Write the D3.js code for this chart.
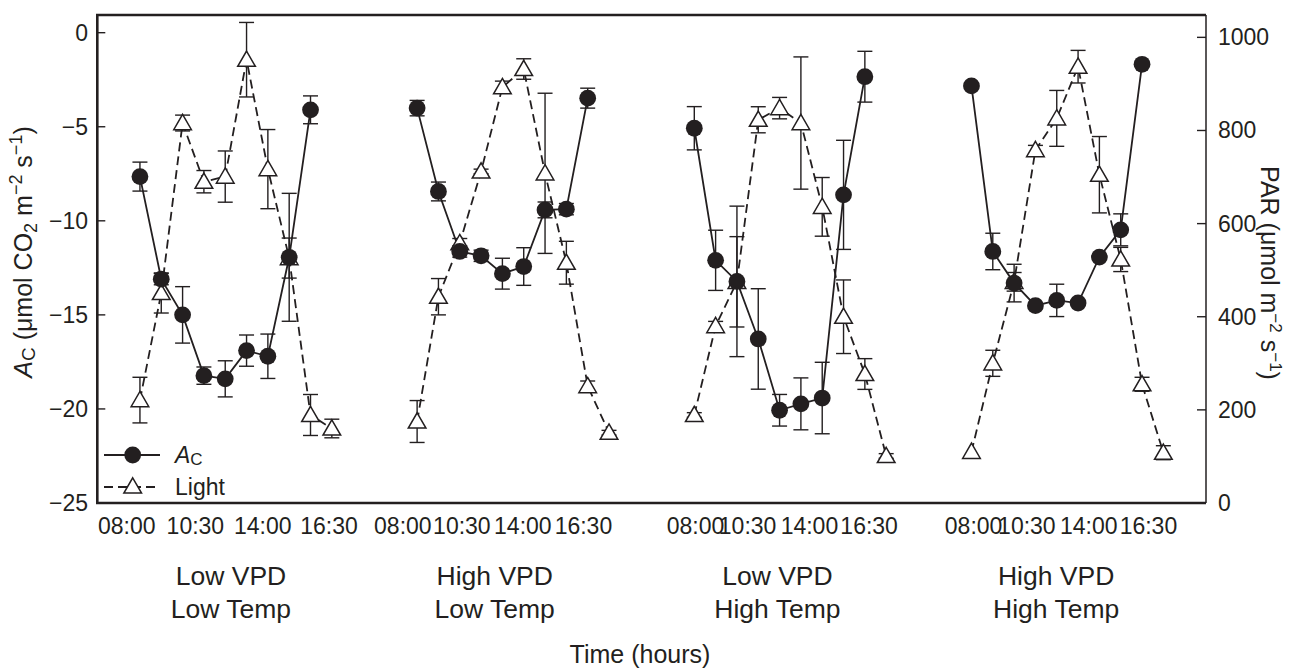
<!DOCTYPE html>
<html>
<head>
<meta charset="utf-8">
<script src="https://cdn.jsdelivr.net/npm/d3@7"></script>
<style>
  body { margin: 0; background: #fff; }
  svg { font-family: "Liberation Sans", Arial, Helvetica, sans-serif; }
  .tick-label { font-size: 23px; fill: #231f20; }
  .axis-title { font-size: 25px; fill: #231f20; }
  .group-label { font-size: 26.5px; fill: #231f20; }
</style>
</head>
<body>
<svg id="chart"></svg>
<script>
// treatments, one block of points each
const groups = ['Low VPD|Low Temp', 'High VPD|Low Temp', 'Low VPD|High Temp', 'High VPD|High Temp'];
const groupCentre = [4.27, 16.64, 29.9, 42.97];

// time labels and where they sit (in point-index units, inside each group)
const timeLabels = ['08:00', '10:30', '14:00', '16:30'];
const timeLabelPos = [
  [-0.62, 2.6, 5.76, 8.87],
  [-0.67, 2.1, 4.96, 7.8],
  [0.06, 2.5, 5.4, 8.2],
  [0.1, 2.6, 5.5, 8.3]
];

// A_C (umol CO2 m-2 s-1), 9 points per group
const acValues = [
  [-7.65, -13.1, -15.0, -18.23, -18.4, -16.9, -17.2, -11.94, -4.1],
  [-4.01, -8.44, -11.63, -11.86, -12.81, -12.43, -9.42, -9.38, -3.48],
  [-5.08, -12.1, -13.22, -16.28, -20.07, -19.73, -19.42, -8.62, -2.34],
  [-2.83, -11.63, -13.31, -14.51, -14.23, -14.37, -11.93, -10.48, -1.68]
];
const acErrors = [
  [0.77, 0.3, 1.5, 0.46, 0.96, 0.83, 1.18, 3.4, 0.74],
  [0.41, 0.5, 0.3, 0.3, 0.82, 1.0, 0.42, 0.3, 0.53],
  [1.15, 1.6, 4.0, 2.67, 0.84, 1.38, 1.9, 2.9, 1.35],
  [0, 0.97, 1.0, 0, 0.86, 0, 0, 0.85, 0]
];

// PAR (umol m-2 s-1), 10 points per group
const lightValues = [
  [221, 451, 816, 690, 701, 952, 717, 526, 189, 160],
  [175, 443, 558, 712, 893, 932, 708, 516, 251, 151],
  [189, 380, 475, 823, 848, 816, 636, 400, 277, 101],
  [110, 300, 475, 758, 826, 937, 705, 523, 255, 108]
];
const lightErrors = [
  [49, 43, 17, 24, 55, 80, 85, 43, 44, 20],
  [45, 39, 10, 5, 13, 22, 172, 46, 11, 5],
  [5, 10, 97, 28, 23, 142, 63, 79, 33, 5],
  [0, 28, 20, 10, 60, 35, 82, 26, 15, 15]
];

const acTicks = [0, -5, -10, -15, -20, -25];
const parTicks = [0, 200, 400, 600, 800, 1000];

class DualAxisChart {

  constructor(_config) {
    this.config = {
      parentElement: _config.parentElement,
      containerWidth: 1290,
      containerHeight: 670,
      plot: {left: 97.3, right: 1206, top: 15, bottom: 503},
      groupStride: 13,
      ink: '#231f20'
    };
    this.initVis();
  }

  initVis() {
    let vis = this;
    let p = vis.config.plot;

    vis.svg = d3.select(vis.config.parentElement)
        .attr('width', vis.config.containerWidth)
        .attr('height', vis.config.containerHeight);

    // x is a running point index: group g, point k -> g*13 + k
    vis.xScale = d3.scaleLinear().domain([-2, 50]).range([p.left, p.right]);
    vis.yLeft = d3.scaleLinear().domain([-25, 0.94]).range([p.bottom, p.top]);
    vis.yRight = d3.scaleLinear().domain([0, 1048]).range([p.bottom, p.top]);

    vis.chart = vis.svg.append('g');
  }

  updateVis() {
    let vis = this;
    let s = vis.config.groupStride;

    vis.acData = acValues.map((arr, g) => arr.map((v, k) => ({x: g * s + k, y: v, e: acErrors[g][k]})));
    vis.lightData = lightValues.map((arr, g) => arr.map((v, k) => ({x: g * s + k, y: v, e: lightErrors[g][k]})));

    vis.renderVis();
    vis.renderAxes();
    vis.renderLegend();
  }

  renderVis() {
    let vis = this;
    let ink = vis.config.ink;

    const lineAc = d3.line().x(d => vis.xScale(d.x)).y(d => vis.yLeft(d.y));
    const lineLight = d3.line().x(d => vis.xScale(d.x)).y(d => vis.yRight(d.y));

    // error bars first, markers sit on top
    const errG = vis.chart.append('g').attr('stroke', ink).attr('stroke-width', 1.4).attr('fill', 'none');
    const drawErr = (data, yScale) => {
      data.flat().filter(d => d.e > 0).forEach(d => {
        let x = vis.xScale(d.x);
        let y1 = yScale(d.y + d.e), y2 = yScale(d.y - d.e);
        errG.append('line').attr('x1', x).attr('x2', x).attr('y1', y1).attr('y2', y2);
        errG.append('line').attr('x1', x - 7.5).attr('x2', x + 7.5).attr('y1', y1).attr('y2', y1);
        errG.append('line').attr('x1', x - 7.5).attr('x2', x + 7.5).attr('y1', y2).attr('y2', y2);
      });
    };
    drawErr(vis.lightData, vis.yRight);
    drawErr(vis.acData, vis.yLeft);

    vis.chart.selectAll('.light-line')
        .data(vis.lightData)
      .join('path')
        .attr('class', 'light-line')
        .attr('d', lineLight)
        .attr('fill', 'none')
        .attr('stroke', ink)
        .attr('stroke-width', 1.8)
        .attr('stroke-dasharray', '9,5');

    vis.chart.selectAll('.ac-line')
        .data(vis.acData)
      .join('path')
        .attr('class', 'ac-line')
        .attr('d', lineAc)
        .attr('fill', 'none')
        .attr('stroke', ink)
        .attr('stroke-width', 1.8);

    const tri = d3.symbol().type(d3.symbolTriangle).size(135);

    vis.chart.selectAll('.light-pt')
        .data(vis.lightData.flat())
      .join('path')
        .attr('class', 'light-pt')
        .attr('d', tri)
        .attr('transform', d => `translate(${vis.xScale(d.x)},${vis.yRight(d.y) + 1.5})`)
        .attr('fill', '#fff')
        .attr('stroke', ink)
        .attr('stroke-width', 1.5);

    vis.chart.selectAll('.ac-pt')
        .data(vis.acData.flat())
      .join('circle')
        .attr('class', 'ac-pt')
        .attr('cx', d => vis.xScale(d.x))
        .attr('cy', d => vis.yLeft(d.y))
        .attr('r', 8.4)
        .attr('fill', ink);
  }

  renderAxes() {
    let vis = this;
    let p = vis.config.plot;
    let ink = vis.config.ink;
    let s = vis.config.groupStride;

    // frame
    vis.svg.append('path')
        .attr('d', `M${p.right},${p.top}H${p.left}V${p.bottom}H${p.right}`)
        .attr('fill', 'none').attr('stroke', ink).attr('stroke-width', 2.6);
    vis.svg.append('line')
        .attr('x1', p.right).attr('x2', p.right).attr('y1', p.top).attr('y2', p.bottom)
        .attr('stroke', ink).attr('stroke-width', 1.5);

    // left axis, ticks pointing in
    const left = vis.svg.append('g');
    left.selectAll('line').data(acTicks.filter(t => t > -25)).join('line')
        .attr('x1', p.left).attr('x2', p.left + 8)
        .attr('y1', d => vis.yLeft(d)).attr('y2', d => vis.yLeft(d))
        .attr('stroke', ink).attr('stroke-width', 1.4);
    left.selectAll('text').data(acTicks).join('text')
        .attr('class', 'tick-label')
        .attr('x', 88).attr('y', d => vis.yLeft(d) + 8)
        .attr('text-anchor', 'end')
        .text(d => d < 0 ? '\u2212' + Math.abs(d) : d);

    // right axis
    const right = vis.svg.append('g');
    right.selectAll('line').data(parTicks.filter(t => t > 0)).join('line')
        .attr('x1', p.right - 9).attr('x2', p.right)
        .attr('y1', d => vis.yRight(d)).attr('y2', d => vis.yRight(d))
        .attr('stroke', ink).attr('stroke-width', 1.4);
    right.selectAll('text').data(parTicks).join('text')
        .attr('class', 'tick-label')
        .attr('x', 1218).attr('y', d => vis.yRight(d) + 8)
        .attr('text-anchor', 'start')
        .text(d => d);

    // time labels under each group
    const tl = [];
    timeLabelPos.forEach((row, g) => row.forEach((pos, i) => tl.push({x: g * s + pos, t: timeLabels[i]})));
    vis.svg.append('g').selectAll('text').data(tl).join('text')
        .attr('class', 'tick-label')
        .attr('x', d => vis.xScale(d.x)).attr('y', 534)
        .attr('text-anchor', 'middle')
        .text(d => d.t);

    // treatment labels
    const gl = vis.svg.append('g').selectAll('text').data(groups).join('text')
        .attr('class', 'group-label')
        .attr('text-anchor', 'middle')
        .attr('x', (d, i) => vis.xScale(groupCentre[i]))
        .attr('y', 585);
    gl.append('tspan').text(d => d.split('|')[0]);
    gl.append('tspan').attr('x', (d, i) => vis.xScale(groupCentre[i])).attr('dy', 33).text(d => d.split('|')[1]);

    vis.svg.append('text')
        .attr('class', 'axis-title')
        .attr('x', 640).attr('y', 663)
        .attr('text-anchor', 'middle')
        .text('Time (hours)');

    // left title: A_C (umol CO2 m-2 s-1)
    const lt = vis.svg.append('text')
        .attr('class', 'axis-title')
        .attr('font-size', 26.5)
        .attr('transform', `translate(32,252) rotate(-90)`)
        .attr('text-anchor', 'middle');
    lt.append('tspan').attr('font-style', 'italic').text('A');
    lt.append('tspan').attr('font-size', 19).attr('dy', 3).text('C');
    lt.append('tspan').attr('dy', -3).text(' (\u03bcmol CO');
    lt.append('tspan').attr('font-size', 18).attr('dy', 5).text('2');
    lt.append('tspan').attr('dy', -5).text(' m');
    lt.append('tspan').attr('font-size', 18).attr('dy', -10).text('\u22122');
    lt.append('tspan').attr('dy', 10).text(' s');
    lt.append('tspan').attr('font-size', 18).attr('dy', -10).text('\u22121');
    lt.append('tspan').attr('dy', 10).text(')');

    // right title: PAR (umol m-2 s-1)
    const rt = vis.svg.append('text')
        .attr('class', 'axis-title')
        .attr('transform', `translate(1261,${(p.top + p.bottom) / 2 + 14}) rotate(90)`)
        .attr('text-anchor', 'middle');
    rt.append('tspan').text('PAR (\u03bcmol m');
    rt.append('tspan').attr('font-size', 17).attr('dy', -9).text('\u22122');
    rt.append('tspan').attr('dy', 9).text(' s');
    rt.append('tspan').attr('font-size', 17).attr('dy', -9).text('\u22121');
    rt.append('tspan').attr('dy', 9).text(')');
  }

  renderLegend() {
    let vis = this;
    let ink = vis.config.ink;
    const lg = vis.svg.append('g');

    lg.append('line').attr('x1', 104).attr('x2', 160).attr('y1', 455).attr('y2', 455)
        .attr('stroke', ink).attr('stroke-width', 1.8);
    lg.append('circle').attr('cx', 132.7).attr('cy', 455).attr('r', 8.4).attr('fill', ink);
    const t1 = lg.append('text').attr('class', 'tick-label').attr('x', 175).attr('y', 463);
    t1.append('tspan').attr('font-style', 'italic').text('A');
    t1.append('tspan').attr('font-size', 17).attr('dy', 2).text('C');

    lg.append('line').attr('x1', 104).attr('x2', 155).attr('y1', 487).attr('y2', 487)
        .attr('stroke', ink).attr('stroke-width', 1.8).attr('stroke-dasharray', '9,5');
    lg.append('path').attr('d', d3.symbol().type(d3.symbolTriangle).size(135))
        .attr('transform', 'translate(132.7,488)')
        .attr('fill', '#fff').attr('stroke', ink).attr('stroke-width', 1.5);
    lg.append('text').attr('class', 'tick-label').attr('x', 175).attr('y', 495).text('Light');
  }
}

const chart = new DualAxisChart({parentElement: '#chart'});
chart.updateVis();
</script>
</body>
</html>
